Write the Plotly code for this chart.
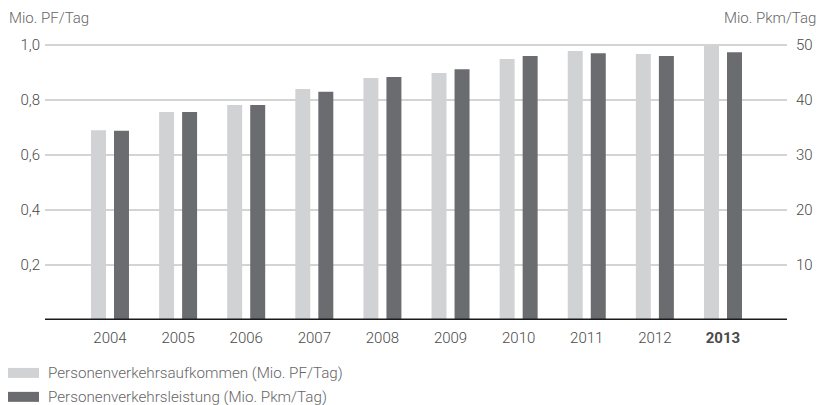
import plotly.graph_objects as go

years = ["2004", "2005", "2006", "2007", "2008", "2009", "2010", "2011", "2012", "2013"]
aufkommen = [0.69, 0.756, 0.782, 0.84, 0.88, 0.898, 0.949, 0.978, 0.967, 0.997]   # Mio. PF/Tag (left)
leistung = [34.4, 37.8, 39.1, 41.5, 44.2, 45.6, 48.0, 48.5, 48.0, 48.7]          # Mio. Pkm/Tag (right)
left_ticks = [0.2, 0.4, 0.6, 0.8, 1.0]
left_labels = ["0,2", "0,4", "0,6", "0,8", "1,0"]
right_ticks = [10, 20, 30, 40, 50]
right_labels = ["10", "20", "30", "40", "50"]
legend_labels = ["Personenverkehrsaufkommen (Mio. PF/Tag)", "Personenverkehrsleistung (Mio. Pkm/Tag)"]

LIGHT = "#d1d2d4"
DARK = "#6b6c70"
FONT = "Roboto"
TXT = "#4a4a4a"
SUB = "#666666"
FS = 15

idx = list(range(len(years)))
fig = go.Figure()
fig.add_trace(go.Bar(x=idx, y=aufkommen, width=0.22, offset=-0.279,
                     marker=dict(color=LIGHT, line=dict(width=0)), yaxis="y", name=legend_labels[0]))
fig.add_trace(go.Bar(x=idx, y=leistung, width=0.22, offset=0.059,
                     marker=dict(color=DARK, line=dict(width=0)), yaxis="y2", name=legend_labels[1]))

ticktext = [("<b>%s</b>" % y if y == "2013" else y) for y in years]

def f(color, size=FS):
    return dict(family=FONT, size=size, color=color, weight=300)

fig.update_layout(
    width=819, height=405,
    margin=dict(l=45, r=32, t=40, b=85, autoexpand=False),
    plot_bgcolor="white", paper_bgcolor="white",
    showlegend=False,
    font=f(TXT),
    xaxis=dict(range=[-0.954, 9.94], tickvals=idx, ticktext=ticktext, showgrid=False,
               zeroline=False, showline=False, ticks="", tickfont=f(TXT),
               ticklabelstandoff=7, fixedrange=True),
    yaxis=dict(range=[0, 1.0182], tickvals=left_ticks, ticktext=left_labels, showgrid=True,
               gridcolor="#d4d4d4", gridwidth=1.5, zeroline=False, showline=False, ticks="",
               ticklabelstandoff=4, tickfont=f(TXT), fixedrange=True),
    yaxis2=dict(range=[0, 50.91], overlaying="y", side="right", tickvals=right_ticks,
                ticktext=right_labels, showgrid=False, zeroline=False, showline=False,
                ticks="", ticklabelstandoff=8, tickfont=f(TXT), fixedrange=True),
)

# baseline
fig.add_shape(type="line", xref="paper", yref="y", x0=0, x1=1, y0=0, y1=0,
              line=dict(color="#1a1a1a", width=3), layer="above")

def px_x(x):
    return (x - 45) / 742

def px_y(y):
    return (320 - y) / 280.5

# axis unit titles
fig.add_annotation(text="Mio. PF/Tag", xref="paper", yref="paper", x=px_x(7), y=px_y(17),
                   xanchor="left", yanchor="middle", showarrow=False, font=f(SUB))
fig.add_annotation(text="Mio. Pkm/Tag", xref="paper", yref="paper", x=px_x(818), y=px_y(17),
                   xanchor="right", yanchor="middle", showarrow=False, font=f(SUB))

# custom legend
for i, (lab, col) in enumerate(zip(legend_labels, [LIGHT, DARK])):
    top = 368 + i * 24
    fig.add_shape(type="rect", xref="paper", yref="paper",
                  x0=px_x(8), x1=px_x(39), y0=px_y(top), y1=px_y(top + 10),
                  fillcolor=col, line=dict(width=0))
    fig.add_annotation(text=lab, xref="paper", yref="paper", x=px_x(46),
                       y=px_y(top + 5), xanchor="left", yanchor="middle", showarrow=False,
                       font=f(SUB, 15.2))

fig.write_html("out.html", config={"displayModeBar": False})

# remove the browser's default page margin so the figure sits at (0, 0)
with open("out.html", "r", encoding="utf-8") as fh:
    html = fh.read()
html = html.replace("<head>", "<head><style>html,body{margin:0;padding:0;overflow:hidden;}</style>", 1)
with open("out.html", "w", encoding="utf-8") as fh:
    fh.write(html)
